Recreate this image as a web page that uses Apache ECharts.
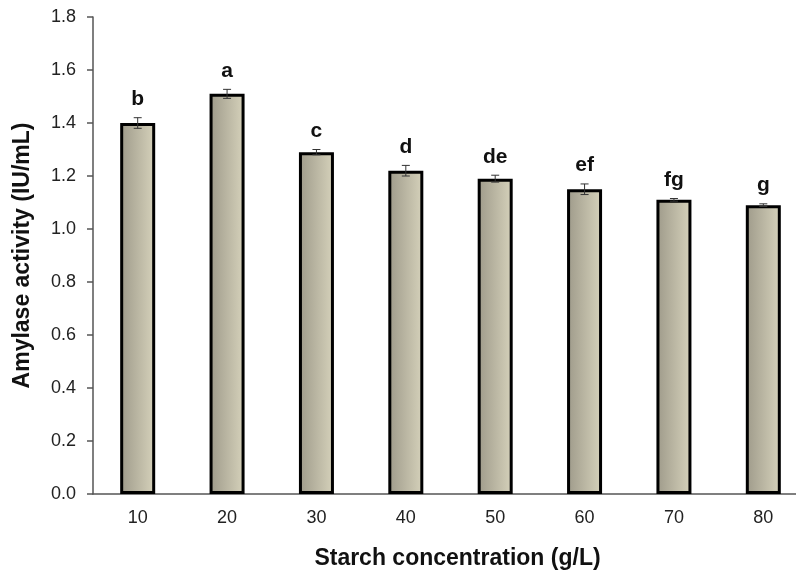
<!DOCTYPE html>
<html><head><meta charset="utf-8">
<script src="https://cdn.jsdelivr.net/npm/echarts@6/dist/echarts.min.js"></script>
<style>html,body{margin:0;padding:0;background:#fff}#c{width:796px;height:571px}</style>
</head><body><div id="c"></div>
<script>
const categories = ['10','20','30','40','50','60','70','80'];
const activity = [1.40, 1.51, 1.29, 1.22, 1.19, 1.15, 1.11, 1.09];
const errors = [0.02, 0.017, 0.01, 0.02, 0.013, 0.02, 0.005, 0.005];
const letters = ['b','a','c','d','de','ef','fg','g'];

const FONT = '"Liberation Sans", Arial, sans-serif';
const chart = echarts.init(document.getElementById('c'));
chart.setOption({
  animation: false,
  grid: { left: 93, width: 715, top: 17, bottom: 77, containLabel: false, outerBoundsMode: 'none' },
  xAxis: {
    type: 'category', data: categories,
    name: 'Starch concentration (g/L)', nameLocation: 'middle', nameGap: 53,
    nameTextStyle: { fontFamily: FONT, fontWeight: 'bold', fontSize: 23, color: '#111', padding: [0,0,0,14] },
    axisLine: { lineStyle: { color: '#555', width: 1.5 } },
    axisTick: { show: false },
    axisLabel: { fontFamily: FONT, fontSize: 18, color: '#222', margin: 15 }
  },
  yAxis: {
    type: 'value', min: 0, max: 1.8, interval: 0.2,
    name: 'Amylase activity (IU/mL)', nameLocation: 'middle', nameGap: 59,
    nameTextStyle: { fontFamily: FONT, fontWeight: 'bold', fontSize: 23, color: '#111' },
    axisLine: { show: true, lineStyle: { color: '#555', width: 1.5 } },
    axisTick: { show: true, length: 6, lineStyle: { color: '#555', width: 1.5 } },
    splitLine: { show: false },
    axisLabel: { fontFamily: FONT, fontSize: 18, color: '#222', margin: 17,
      formatter: v => v.toFixed(1) }
  },
  series: [
    {
      type: 'bar', data: activity, barWidth: 35,
      itemStyle: {
        borderColor: '#000', borderWidth: 3,
        color: new echarts.graphic.LinearGradient(0, 0, 1, 0, [
          { offset: 0, color: '#9e9a8a' },
          { offset: 1, color: '#d6d2bb' }
        ])
      }
    },
    {
      type: 'custom', z: 10,
      data: activity.map((v, i) => [i, v, errors[i]]),
      renderItem: function (params, api) {
        const i = api.value(0), v = api.value(1), e = api.value(2);
        const top = api.coord([i, v + e]);
        const bot = api.coord([i, v - e]);
        const cap = 4;
        return {
          type: 'group',
          children: [
            { type: 'line', shape: { x1: top[0], y1: top[1], x2: bot[0], y2: bot[1] }, style: { stroke: '#333', lineWidth: 1 } },
            { type: 'line', shape: { x1: top[0]-cap, y1: top[1], x2: top[0]+cap, y2: top[1] }, style: { stroke: '#333', lineWidth: 1 } },
            { type: 'line', shape: { x1: bot[0]-cap, y1: bot[1], x2: bot[0]+cap, y2: bot[1] }, style: { stroke: '#333', lineWidth: 1 } },
            { type: 'text', style: { text: letters[params.dataIndex], x: top[0], y: top[1] - 8,
              align: 'center', verticalAlign: 'bottom', fontFamily: FONT, fontWeight: 'bold', fontSize: 21, fill: '#111' } }
          ]
        };
      }
    }
  ]
});
</script></body></html>
